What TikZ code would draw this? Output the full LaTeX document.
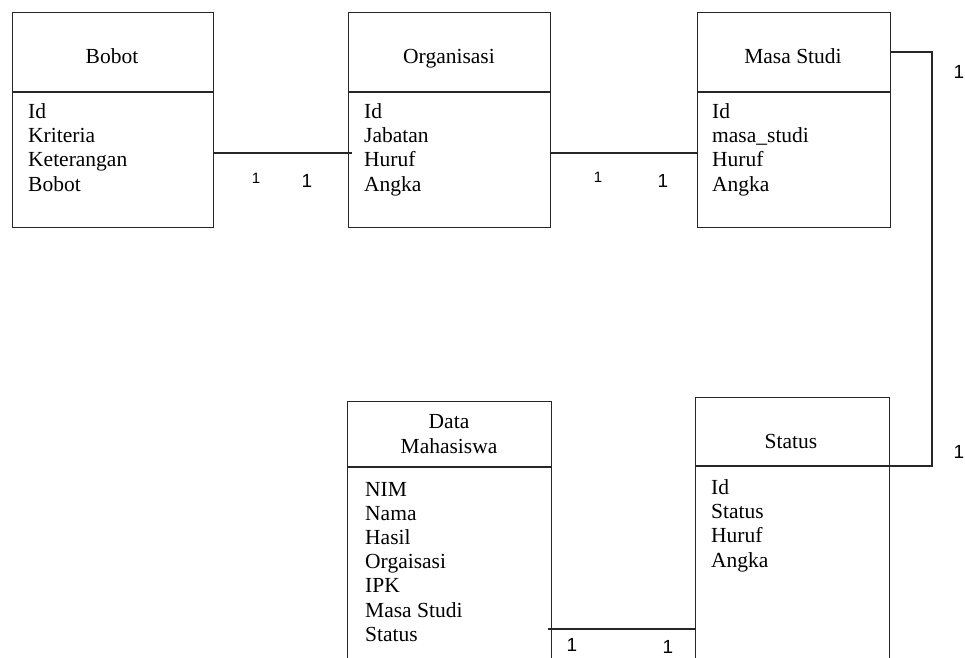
\documentclass[tikz,border=0pt]{standalone}
\usepackage{fontspec}
\setmainfont{Liberation Serif}
\newfontfamily\labelfont{Liberation Sans}
\begin{document}
\begin{tikzpicture}[x=1pt,y=-1pt,
  entity/.style={draw=black!85, line width=1.3pt, anchor=north west, inner sep=0pt},
  divider/.style={draw=black!85, line width=1.3pt},
  relation/.style={draw=black!85, line width=1.3pt},
  title/.style={font=\fontsize{21.5}{24.4}\selectfont, inner sep=0pt, anchor=base},
  field/.style={font=\fontsize{21.5}{24.4}\selectfont, inner sep=0pt, anchor=base west},
  card/.style={font=\labelfont\fontsize{15}{16}\selectfont, inner sep=0pt, anchor=center},
  cardbig/.style={font=\labelfont\fontsize{19}{20}\selectfont, inner sep=0pt, anchor=center}]
\useasboundingbox (0,0) rectangle (965,657);
\clip (0,0) rectangle (965,657);

% entity boxes
\node[entity, minimum width=201pt, minimum height=215pt] (bobot) at (12,12) {};
\node[entity, minimum width=202pt, minimum height=215pt] (org) at (348,12) {};
\node[entity, minimum width=193pt, minimum height=215pt] (masa) at (697,12) {};
\node[entity, minimum width=204pt, minimum height=320pt] (dm) at (347,401) {};
\node[entity, minimum width=194pt, minimum height=320pt] (status) at (695,397) {};

% header dividers
\draw[divider] (bobot.west |- 0,92) -- (bobot.east |- 0,92);
\draw[divider] (org.west |- 0,92) -- (org.east |- 0,92);
\draw[divider] (masa.west |- 0,92) -- (masa.east |- 0,92);
\draw[divider] (dm.west |- 0,467) -- (dm.east |- 0,467);
\draw[divider] (status.west |- 0,466) -- (status.east |- 0,466);

% titles (placed on their baselines)
\node[title] (tbobot) at (112,63) {Bobot};
\node[title] (torg) at (449,63) {Organisasi};
\node[title] (tmasa) at (793,63) {Masa Studi};
\node[title] (tdm1) at (449,428) {Data};
\node[title] (tdm2) at (449,453) {Mahasiswa};
\node[title] (tstatus) at (791,448) {Status};

% attributes
\foreach \t [count=\i from 0] in {Id,Kriteria,Keterangan,Bobot}
  \node[field] (fb\i) at (28,118+24.4*\i) {\t};
\foreach \t [count=\i from 0] in {Id,Jabatan,Huruf,Angka}
  \node[field] (fo\i) at (364,118+24.4*\i) {\t};
\foreach \t [count=\i from 0] in {Id,masa\_studi,Huruf,Angka}
  \node[field] (fm\i) at (712,118+24.4*\i) {\t};
\foreach \t [count=\i from 0] in {NIM,Nama,Hasil,Orgaisasi,IPK,Masa Studi,Status}
  \node[field] (fd\i) at (365,496+24.2*\i) {\t};
\foreach \t [count=\i from 0] in {Id,Status,Huruf,Angka}
  \node[field] (fs\i) at (711,494+24.4*\i) {\t};

% relationships
\draw[relation] (bobot.east |- 0,153) -- ([xshift=4pt]org.west |- 0,153);
\draw[relation] (org.east |- 0,153) -- (masa.west |- 0,153);
\coordinate (bendtop) at (932,52);
\coordinate (bendbot) at (932,466);
\draw[relation] (masa.east |- bendtop) -- (bendtop) -- (bendbot) -- ([xshift=-8pt]status.east |- bendbot);
\draw[relation] ([xshift=-4pt]dm.east |- 0,629) -- (status.west |- 0,629);

% cardinalities
\node[card] (c1) at (256,178) {1};
\node[cardbig] (c2) at (307,181) {1};
\node[card] (c3) at (598,177) {1};
\node[cardbig] (c4) at (663,181) {1};
\node[cardbig] (c5) at (959,72) {1};
\node[cardbig] (c6) at (959,452) {1};
\node[cardbig] (c7) at (572,645) {1};
\node[cardbig] (c8) at (668,647) {1};
\end{tikzpicture}
\end{document}
